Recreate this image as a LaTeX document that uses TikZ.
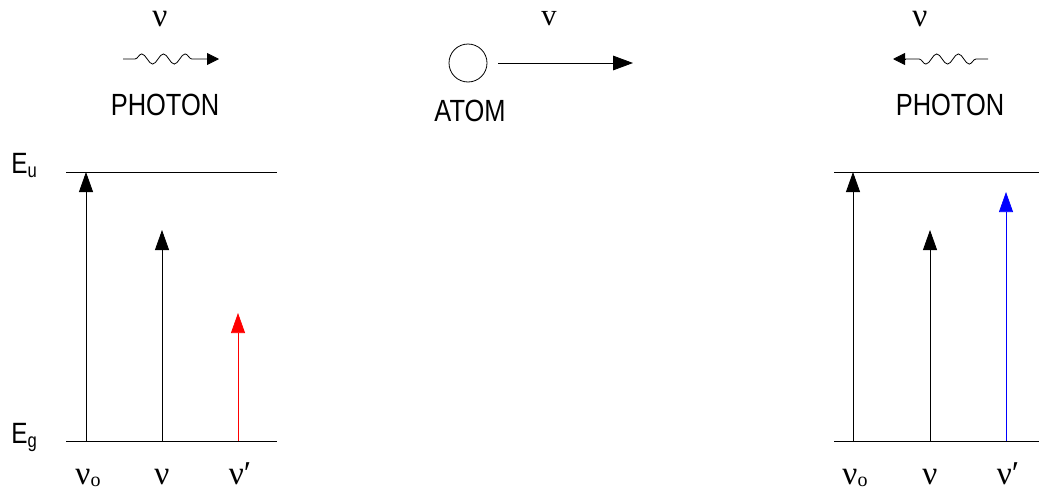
\documentclass[tikz,border=0pt]{standalone}
\usepackage{fontspec}
\setmainfont{Liberation Sans}
\newfontfamily\grk{Liberation Serif}
\usetikzlibrary{arrows.meta,decorations.pathmorphing}
\newcommand{\nrw}[1]{\scalebox{0.83}[1]{#1}}
\tikzset{
  lvl/.style={line width=0.7pt},
  trans/.style={line width=0.6pt,-{Triangle[length=15pt,width=10.5pt]}},
  big/.style={line width=0.6pt,-{Triangle[length=15pt,width=11pt]}},
  wave/.style={line width=0.6pt,decorate,decoration={snake,amplitude=3.8pt,segment length=16.25pt,pre length=9pt,post length=5.25pt}},
  wtip/.style={-{Triangle[length=9pt,width=9pt]}},
  lab/.style={inner sep=0pt,font=\fontsize{23}{23}\selectfont},
  glab/.style={inner sep=0pt,font=\grk\fontsize{25}{25}\selectfont},
  elab/.style={inner sep=0pt,font=\fontsize{22}{22}\selectfont,anchor=base west}
}
\begin{document}
\begin{tikzpicture}[x=0.75pt,y=-0.75pt]
\useasboundingbox (0,0) rectangle (1039,493);
% ---- top row ----
\node[glab,anchor=base] (nuL) at (160,26) {ν};
\coordinate (wLs) at (123,59);
\coordinate (wLe) at (207,59);
\coordinate (wLt) at (219,59);
\draw[wave] (wLs) -- (wLe);
\draw[line width=0.6pt,wtip] (wLe) -- (wLt);
\node[lab] (phL) at (165,105) {\nrw{PHOTON}};

\node[draw,circle,line width=0.6pt,minimum size=38pt*0.75,inner sep=0pt] (atom) at (468,63) {};
\coordinate (vEnd) at (633,63);
\draw[big] (atom.east) ++(11,0) coordinate (vStart) -- (vEnd);
\node[inner sep=0pt,anchor=base,font=\grk\fontsize{23}{23}\selectfont] (vlab) at (549,25) {v};
\node[lab] (atl) at (470,111) {\nrw{ATOM}};

\node[glab,anchor=base] (nuR) at (920,26) {ν};
\coordinate (wRs) at (988,59);
\coordinate (wRe) at (905,59);
\coordinate (wRt) at (893,59);
\draw[wave] (wRs) -- (wRe);
\draw[line width=0.6pt,wtip] (wRe) -- (wRt);
\node[lab] (phR) at (950,105) {\nrw{PHOTON}};

% ---- left level diagram ----
\coordinate (Lu1) at (66,172); \coordinate (Lu2) at (277,172);
\coordinate (Lg1) at (66,441); \coordinate (Lg2) at (277,441);
\draw[lvl] (Lu1) -- (Lu2);
\draw[lvl] (Lg1) -- (Lg2);
\node[elab] (Eu) at (11,173) {\nrw{E}\raisebox{-3.5pt}{\fontsize{15}{15}\selectfont\nrw{u}}};
\node[elab] (Eg) at (11,443) {\nrw{E}\raisebox{-3.5pt}{\fontsize{15}{15}\selectfont\nrw{g}}};
\coordinate (a1b) at (86,441); \coordinate (a1t) at (86,172);
\coordinate (a2b) at (162,441); \coordinate (a2t) at (162,230);
\coordinate (a3b) at (238,441); \coordinate (a3t) at (238,313);
\draw[trans] (a1b) -- (a1t);
\draw[trans] (a2b) -- (a2t);
\draw[trans,red,line width=0.5pt] (a3b) -- (a3t);
\node[glab,anchor=base] (Ln0) at (88,484) {ν\raisebox{-2pt}{\fontsize{15}{15}\selectfont o}};
\node[glab,anchor=base] (Ln1) at (162,484) {ν};
\node[glab,anchor=base] (Ln2) at (240,484) {ν′};

% ---- right level diagram ----
\coordinate (Ru1) at (834,172); \coordinate (Ru2) at (1039,172);
\coordinate (Rg1) at (834,441); \coordinate (Rg2) at (1039,441);
\draw[lvl] (Ru1) -- (Ru2);
\draw[lvl] (Rg1) -- (Rg2);
\coordinate (b1b) at (853,441); \coordinate (b1t) at (853,172);
\coordinate (b2b) at (930,441); \coordinate (b2t) at (930,230);
\coordinate (b3b) at (1006,441); \coordinate (b3t) at (1006,192);
\draw[trans] (b1b) -- (b1t);
\draw[trans] (b2b) -- (b2t);
\draw[trans,blue,line width=0.5pt] (b3b) -- (b3t);
\node[glab,anchor=base] (Rn0) at (855,484) {ν\raisebox{-2pt}{\fontsize{15}{15}\selectfont o}};
\node[glab,anchor=base] (Rn1) at (930,484) {ν};
\node[glab,anchor=base] (Rn2) at (1008,484) {ν′};
\end{tikzpicture}
\end{document}
